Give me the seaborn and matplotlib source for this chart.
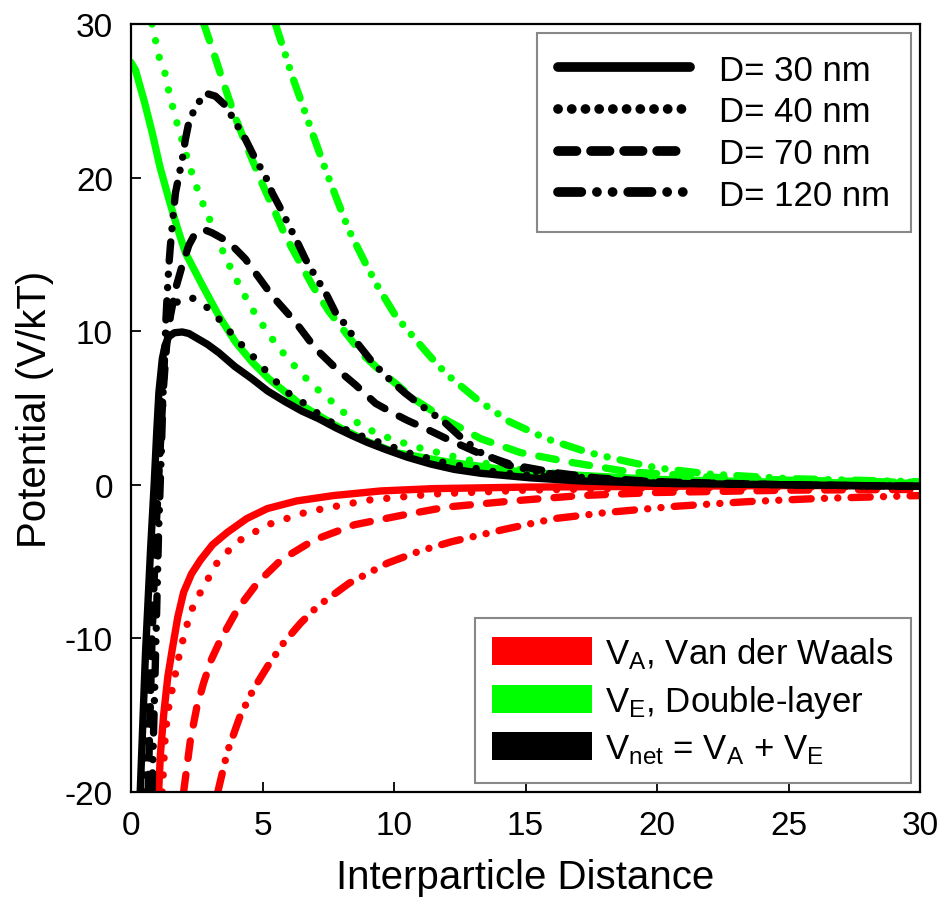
import matplotlib
matplotlib.use("Agg")
import matplotlib.pyplot as plt
import seaborn as sns
import pandas as pd
from matplotlib.lines import Line2D
from matplotlib.patches import Patch

# ---------------- data ----------------
# V_A, Van der Waals (red)
va30_x = [1.05, 1.12, 1.24, 1.4, 1.57, 1.78, 2.0, 2.3, 2.64, 3.1, 3.66, 4.4, 5.18, 6.3, 7.7, 9.5, 11.5, 15, 20, 25, 30]
va30_y = [-20, -17.5, -15.0, -12.5, -10.7, -8.6, -7.0, -5.8, -4.9, -3.9, -3.1, -2.2, -1.55, -1.05, -0.7, -0.4, -0.25, -0.15, -0.1, -0.05, -0.05]
va40_x = [1.19, 1.31, 1.45, 1.63, 1.88, 2.26, 2.64, 3.3, 4.05, 5.2, 6.7, 9.0, 11.5, 15, 20, 25, 30]
va40_y = [-20, -16.1, -14.3, -12.8, -10.7, -8.3, -7.0, -5.0, -3.7, -2.6, -1.76, -1.0, -0.6, -0.35, -0.2, -0.15, -0.1]
va70_x = [2.0, 2.26, 2.5, 2.76, 3.05, 3.4, 4.05, 4.8, 5.7, 6.95, 8.5, 10.25, 12.0, 14.5, 17.1, 20, 25, 30]
va70_y = [-20, -16.6, -14.5, -12.9, -11.4, -10.1, -8.1, -6.4, -4.9, -3.6, -2.6, -2.0, -1.45, -1.05, -0.7, -0.5, -0.35, -0.3]
va120_x = [3.3, 3.66, 4.16, 4.66, 5.2, 5.8, 6.45, 7.1, 8.3, 9.75, 11.0, 12.2, 14.2, 16.1, 18.1, 20.7, 23.4, 26, 30]
va120_y = [-20, -17.4, -15.0, -13.3, -11.8, -10.3, -9.0, -7.9, -6.4, -5.1, -4.3, -3.7, -2.9, -2.2, -1.8, -1.4, -1.1, -0.9, -0.7]

# V_E, Double-layer (green)
ve30_x = [0.0, 0.17, 0.5, 0.81, 1.1, 1.44, 1.75, 2.07, 2.71, 3.34, 3.97, 4.6, 5.24, 6.5, 7.78, 9.04, 10.06, 12, 15, 20, 25, 30]
ve30_y = [27.5, 27.0, 25.0, 22.9, 20.7, 18.6, 16.8, 15.1, 13.0, 11.0, 9.3, 8.0, 6.9, 5.16, 3.86, 2.78, 2.1, 1.5, 0.8, 0.35, 0.15, 0.1]
ve40_x = [0.8, 1.06, 1.31, 1.44, 1.69, 1.95, 2.2, 2.45, 2.71, 3.21, 3.59, 4.23, 4.73, 5.37, 5.87, 6.5, 7.0,
          7.65, 8.16, 8.8, 9.55, 10.75, 12.6, 14.5, 17, 20, 25, 30]
ve40_y = [30, 27.9, 26.7, 25.6, 23.9, 22.4, 20.9, 19.6, 18.4, 16.4, 14.8, 12.6, 11.1, 9.5, 8.4, 7.2, 6.35,
          5.4, 4.6, 3.8, 3.2, 2.5, 1.7, 1.04, 0.6, 0.35, 0.2, 0.1]
ve70_x = [2.77, 3.09, 3.47, 3.97, 4.48, 4.99, 5.49, 5.87, 6.38, 6.89, 7.52, 8.16, 8.8, 9.55, 10.06,
          10.75, 12.0, 13.3, 14.8, 16.6, 18.9, 22, 25, 30]
ve70_y = [30, 28.4, 26.4, 23.9, 21.7, 19.6, 17.7, 16.2, 14.6, 13.0, 11.3, 9.9, 8.5, 7.3, 6.6,
          5.6, 4.2, 3.0, 2.1, 1.5, 0.85, 0.5, 0.3, 0.15]
ve120_x = [5.49, 5.87, 6.13, 6.63, 7.0, 7.4, 7.78, 8.28, 8.92, 9.42, 10.06, 10.75, 11.3, 12.0, 13.2, 14.4,
           15.8, 17.4, 18.9, 20, 22, 25, 30]
ve120_y = [30, 28.0, 26.6, 24.2, 22.4, 20.5, 18.8, 16.6, 14.4, 12.8, 11.0, 9.6, 8.5, 7.2, 5.5, 4.1,
           3.0, 2.1, 1.5, 1.1, 0.7, 0.4, 0.2]

# V_net = V_A + V_E (black)
vn30_x = [0.35, 0.55, 0.75, 0.88, 0.98, 1.06, 1.19, 1.3, 1.44, 1.65, 1.95, 2.2, 2.45, 2.9, 3.34, 3.95, 4.6, 5.2, 5.87, 6.5,
          7.14, 7.8, 8.41, 9.0, 9.68, 10.5, 11.4, 12.3, 13.3, 15.2, 17.1, 20, 25, 30]
vn30_y = [-20, -11, -4, 0, 3.5, 6.0, 8.2, 9.1, 9.65, 9.9, 9.95, 9.85, 9.6, 9.15, 8.6, 7.7, 6.9, 6.1, 5.4, 4.8,
          4.3, 3.7, 3.2, 2.75, 2.3, 1.8, 1.35, 1.0, 0.75, 0.45, 0.25, 0.1, 0.0, -0.1]
vn40_x = [0.5, 0.7, 0.85, 1.0, 1.15, 1.3, 1.5, 1.8, 2.2, 2.45, 3.09, 3.59, 4.1, 4.73, 5.24, 5.87, 6.5,
          7.14, 7.78, 8.41, 9.04, 9.8, 10.5, 12, 14, 16, 20, 25, 30]
vn40_y = [-20, -10, -3, 2, 6, 9.5, 11.3, 12.0, 12.2, 12.1, 11.3, 10.3, 9.3, 8.2, 7.2, 6.1, 5.4,
          4.6, 3.9, 3.4, 3.0, 2.56, 2.1, 1.4, 0.8, 0.5, 0.2, 0.0, -0.1]
vn70_x = [0.65, 0.8, 0.95, 1.1, 1.22, 1.35, 1.5, 1.7, 1.95, 2.2, 2.45, 2.8, 3.09, 3.72, 4.35, 4.73, 5.37,
          6.25, 7.0, 7.78, 8.54, 9.3, 9.93, 10.5, 11.4, 12.0, 13.3, 14.5, 16.1, 17.7, 20, 25, 30]
vn70_y = [-20, -10, -3, 2, 6, 9, 11, 12.8, 14.3, 15.6, 16.4, 16.6, 16.4, 15.8, 14.7, 13.8, 12.3,
          10.6, 8.9, 7.6, 6.5, 5.3, 4.7, 4.2, 3.5, 3.0, 2.0, 1.3, 0.8, 0.45, 0.2, 0.0, -0.1]
vn120_x = [0.8, 0.95, 1.05, 1.15, 1.22, 1.28, 1.33, 1.38, 1.44, 1.5, 1.57, 1.63, 1.69, 1.82, 1.95, 2.07,
           2.2, 2.45, 2.83, 3.21, 3.59, 3.97, 4.35, 4.73, 5.11, 5.37, 5.62, 6.0, 6.38, 6.63, 7.0, 7.4,
           7.78, 8.16, 8.66, 9.17, 9.68, 10.4, 11.0, 11.9, 12.6, 13.3, 14.3, 15.6, 17, 18.5, 20, 25, 30]
vn120_y = [-20, -10, -3, 2, 6, 8.5, 10.8, 12.5, 14.3, 15.6, 16.9, 18.0, 19.0, 20.1, 21.2, 22.5,
           23.6, 24.6, 25.5, 25.3, 24.7, 23.6, 22.5, 21.2, 20.1, 19.0, 18.2, 16.9, 15.6, 14.7, 13.6, 12.5,
           11.2, 10.4, 9.1, 8.0, 7.1, 6.0, 5.2, 4.1, 3.0, 2.1, 1.3, 0.8, 0.5, 0.25, 0.1, 0.0, -0.1]

d_labels = ["D= 30 nm", "D= 40 nm", "D= 70 nm", "D= 120 nm"]
comp_labels = [r"V$_\mathregular{A}$, Van der Waals",
               r"V$_\mathregular{E}$, Double-layer",
               r"V$_\mathregular{net}$ = V$_\mathregular{A}$ + V$_\mathregular{E}$"]
comp_colors = ["#ff0000", "#00ff00", "#000000"]

series = {
    0: [(va30_x, va30_y), (va40_x, va40_y), (va70_x, va70_y), (va120_x, va120_y)],
    1: [(ve30_x, ve30_y), (ve40_x, ve40_y), (ve70_x, ve70_y), (ve120_x, ve120_y)],
    2: [(vn30_x, vn30_y), (vn40_x, vn40_y), (vn70_x, vn70_y), (vn120_x, vn120_y)],
}

# ---------------- style ----------------
sns.set_theme(style="ticks")
plt.rcParams["font.family"] = ["Liberation Sans", "DejaVu Sans"]
plt.rcParams["mathtext.fontset"] = "custom"
plt.rcParams["mathtext.rm"] = "Liberation Sans"
plt.rcParams["mathtext.it"] = "Liberation Sans:italic"
plt.rcParams["axes.unicode_minus"] = False
plt.rcParams["text.color"] = "black"
plt.rcParams["axes.labelcolor"] = "black"

plot_dashes = {
    d_labels[0]: "",
    d_labels[1]: (0.01, 2.3),
    d_labels[2]: (2.4, 2.2),
    d_labels[3]: (2.6, 1.8, 0.01, 1.8, 0.01, 1.8),
}
legend_dashes = [None, (0.01, 1.4), (1.9, 1.5), (2.4, 1.6, 0.01, 1.6, 0.01, 1.6)]

fig = plt.figure(figsize=(9.43, 9.03), dpi=100)
ax = fig.add_axes([131 / 943, 1 - 793 / 903, (920 - 131) / 943, (793 - 25) / 903])

for ci in range(3):
    rows = []
    for di, (xs, ys) in enumerate(series[ci]):
        for xv, yv in zip(xs, ys):
            rows.append({"x": xv, "y": yv, "D": d_labels[di]})
    df = pd.DataFrame(rows)
    sns.lineplot(data=df, x="x", y="y", style="D", style_order=d_labels,
                 dashes=plot_dashes, color=comp_colors[ci], estimator=None,
                 sort=False, legend=False, ax=ax, lw=5.3,
                 dash_capstyle="round", solid_capstyle="round", solid_joinstyle="round")

ax.set_xlim(0, 30)
ax.set_ylim(-20, 30)
ax.set_xticks([0, 5, 10, 15, 20, 25, 30])
ax.set_yticks([-20, -10, 0, 10, 20, 30])
ax.tick_params(direction="in", length=7, width=1.3, labelsize=24, pad=13,
               top=False, right=False, colors="black")
for s in ax.spines.values():
    s.set_linewidth(1.6)
    s.set_color("black")
ax.set_xlabel("Interparticle Distance", fontsize=29, labelpad=12, color="black")
ax.set_ylabel("Potential (V/kT)", fontsize=29, labelpad=8, color="black")

# legend 1: line styles
h1 = []
for di in range(4):
    if legend_dashes[di] is None:
        h1.append(Line2D([], [], color="black", lw=7, solid_capstyle="round"))
    else:
        h1.append(Line2D([], [], color="black", lw=7, dashes=legend_dashes[di],
                         dash_capstyle="round"))
leg1 = ax.legend(h1, d_labels, loc="upper right", fontsize=25, handlelength=3.8,
                 handletextpad=0.85, borderpad=0.6, labelspacing=0.25, borderaxespad=0.25,
                 fancybox=False, framealpha=1, edgecolor="#888888")
leg1.get_frame().set_linewidth(1.5)
ax.add_artist(leg1)

# legend 2: colours
h2 = [Patch(facecolor=c, edgecolor="none") for c in comp_colors]
leg2 = ax.legend(h2, comp_labels, loc="lower right", fontsize=25, handlelength=2.88,
                 handleheight=0.84, handletextpad=0.37, borderpad=0.5, labelspacing=0.35,
                 borderaxespad=0.25, fancybox=False, framealpha=1, edgecolor="#888888")
leg2.get_frame().set_linewidth(1.5)

fig.savefig("out.png", dpi=100, facecolor="white")
